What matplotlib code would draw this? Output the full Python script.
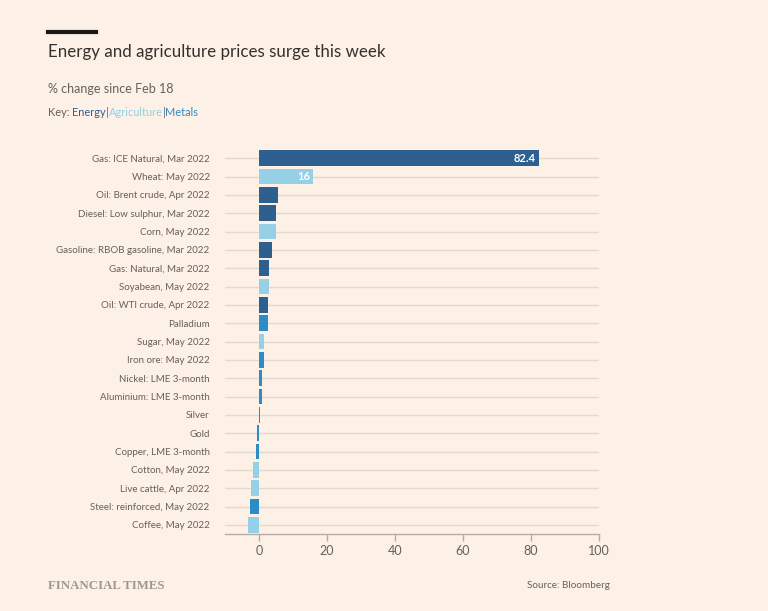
import matplotlib
matplotlib.use("Agg")
import matplotlib.pyplot as plt

plt.rcParams['font.family'] = ['Lato', 'DejaVu Sans']

categories = [
    "Gas: ICE Natural, Mar 2022", "Wheat: May 2022", "Oil: Brent crude, Apr 2022",
    "Diesel: Low sulphur, Mar 2022", "Corn, May 2022", "Gasoline: RBOB gasoline, Mar 2022",
    "Gas: Natural, Mar 2022", "Soyabean, May 2022", "Oil: WTI crude, Apr 2022",
    "Palladium", "Sugar, May 2022", "Iron ore: May 2022", "Nickel: LME 3-month",
    "Aluminium: LME 3-month", "Silver", "Gold", "Copper, LME 3-month",
    "Cotton, May 2022", "Live cattle, Apr 2022", "Steel: reinforced, May 2022",
    "Coffee, May 2022",
]
values = [82.4, 16.0, 5.7, 5.1, 5.0, 3.7, 3.0, 3.0, 2.7, 2.5, 1.5, 1.6, 1.0, 0.9,
          0.2, -0.6, -0.9, -1.7, -2.5, -2.6, -3.3]
groups = ["Energy", "Agriculture", "Energy", "Energy", "Agriculture", "Energy",
          "Energy", "Agriculture", "Energy", "Metals", "Agriculture", "Metals",
          "Metals", "Metals", "Metals", "Metals", "Metals", "Agriculture",
          "Agriculture", "Metals", "Agriculture"]
labelled = {0: "82.4", 1: "16"}
x_ticks = [0, 20, 40, 60, 80, 100]

colors = {"Energy": "#2d5f8f", "Agriculture": "#96d0e6", "Metals": "#2c8cc6"}
bg = "#fdf0e6"
gray = "#66605c"

fig = plt.figure(figsize=(7.68, 6.11), dpi=100, facecolor=bg)
ax = fig.add_axes([225/768, 1-534/611, (599-225)/768, (534-149)/611], facecolor=bg)

n = len(categories)
ypos = list(range(n))
for y in ypos:
    ax.axhline(y, color="#e2d9d0", lw=1, zorder=0)
ax.barh(ypos, values, height=0.86, color=[colors[g] for g in groups], zorder=2)
for i, txt in labelled.items():
    ax.text(values[i] - 0.9, i, txt, color="white", fontsize=8, fontweight="bold",
            ha="right", va="center", zorder=3)

ax.set_ylim(n - 0.5, -0.5)
ax.set_xlim(-10, 100)
ax.set_yticks(ypos)
ax.set_yticklabels(categories, fontsize=7, color=gray)
ax.tick_params(axis="y", length=0, pad=11)
ax.set_xticks(x_ticks)
ax.set_xticklabels([str(t) for t in x_ticks], fontsize=9, color=gray)
ax.tick_params(axis="x", length=5, color="#b5aca4", width=1, pad=3)
for s in ["top", "right", "left"]:
    ax.spines[s].set_visible(False)
ax.spines["bottom"].set_color("#b5aca4")
ax.spines["bottom"].set_linewidth(1)

# header
fig.add_artist(plt.Line2D([48/768, 96/768], [1-32/611, 1-32/611], color="#1a1817", lw=3))
fig.text(48/768, 1-52/611, "Energy and agriculture prices surge this week", fontsize=12.2,
         color="#33302e", va="center", ha="left")
fig.text(48/768, 1-89/611, "% change since Feb 18", fontsize=9, color=gray, va="center")

# key
parts = [("Key: ", gray), ("Energy", colors["Energy"]), ("|", gray),
         ("Agriculture", colors["Agriculture"]), ("|", gray), ("Metals", colors["Metals"])]
fig.canvas.draw()
renderer = fig.canvas.get_renderer()
x = 48/768
for txt, c in parts:
    t = fig.text(x, 1-113/611, txt, fontsize=7.9, color=c, va="center", ha="left")
    bb = t.get_window_extent(renderer=renderer)
    x += bb.width / fig.bbox.width

fig.text(48/768, 1-586/611, "FINANCIAL TIMES", fontsize=9.3, color="#a09890",
         fontweight="bold", family=["Liberation Serif", "DejaVu Serif"],
         va="center", ha="left")
fig.text(610/768, 1-586/611, "Source: Bloomberg", fontsize=7.1, color=gray,
         va="center", ha="right")

fig.savefig("out.png", dpi=100, facecolor=bg)
